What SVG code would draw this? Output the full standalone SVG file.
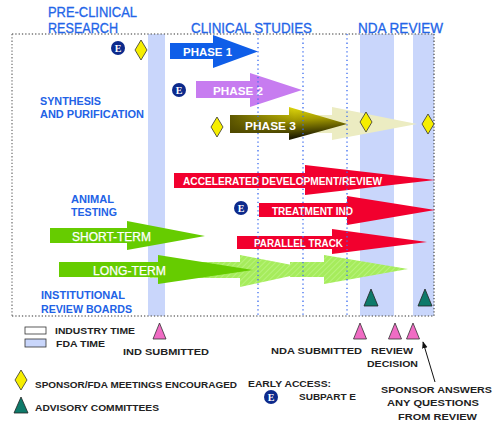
<svg xmlns="http://www.w3.org/2000/svg" width="500" height="428" viewBox="0 0 500 428">
<defs>
<style>
.hdr{font-family:"Liberation Sans",Arial,sans-serif;font-size:14px;fill:#2365e8;stroke:#2365e8;stroke-width:0.3}
.lbl{font-family:"Liberation Sans",Arial,sans-serif;font-size:10.5px;font-weight:bold;fill:#2262e6}
.wt{font-family:"Liberation Sans",Arial,sans-serif;font-size:11px;font-weight:bold;fill:#fff}
.wtn{font-family:"Liberation Sans",Arial,sans-serif;font-size:12px;fill:#fff;stroke:#fff;stroke-width:0.25}
.lg{font-family:"Liberation Sans",Arial,sans-serif;font-size:9.5px;font-weight:bold;fill:#222}
.band{fill:#c9d6fb}
.vdot{stroke:#3a6cf0;stroke-width:1.3;stroke-dasharray:1.3 3;fill:none}
.bdr{stroke:#777;stroke-width:1.3;stroke-dasharray:1.3 2;fill:none}
.dia{fill:#f6ee00;stroke:#333;stroke-width:0.8}
.tri{fill:#f06cc4;stroke:#333;stroke-width:0.8}
.adv{fill:#0e7a6a;stroke:#222;stroke-width:0.8}
.red{fill:#f2002e}
.grn{fill:#66cc00}
.pgrn{fill:url(#hatch)}
.ebg{fill:#0d2a8c}
.et{font-family:"Liberation Serif","Times New Roman",serif;font-size:10px;font-weight:bold;fill:#fff;text-anchor:middle}
</style>
<pattern id="hatch" width="4" height="4" patternUnits="userSpaceOnUse" patternTransform="rotate(45)">
<rect width="4" height="4" fill="#a6ec5c"/>
<line x1="0" y1="0" x2="0" y2="4" stroke="#bdf585" stroke-width="1.5"/>
</pattern>
<linearGradient id="p3" x1="0" y1="0" x2="0.25" y2="1">
<stop offset="0" stop-color="#f4ee10"/>
<stop offset="0.5" stop-color="#a49a00"/>
<stop offset="1" stop-color="#1e1c00"/>
</linearGradient>
<linearGradient id="p3h" x1="0" y1="0" x2="1" y2="0">
<stop offset="0" stop-color="#4a4400" stop-opacity="0.85"/>
<stop offset="0.55" stop-color="#4a4400" stop-opacity="0"/>
</linearGradient>
<marker id="ah" viewBox="0 0 10 10" refX="9" refY="5" markerWidth="7" markerHeight="7" orient="auto">
<path d="M0,1 L10,5 L0,9 Z" fill="#111"/>
</marker>
</defs>
<rect width="500" height="428" fill="#fff"/>

<g id="fda-bands">
<rect class="band" x="148" y="34" width="17" height="282"/>
<rect class="band" x="360" y="34" width="34" height="282"/>
<rect class="band" x="413" y="34" width="21" height="282"/>
</g>

<g id="frame">
<path class="bdr" d="M12,34 H434 M12,34 V316 M12,316 H434"/>
<path d="M434,34 V316" stroke="#555" stroke-width="1.3" stroke-dasharray="1.3 2" fill="none"/>
</g>

<g id="headers">
<text class="hdr" x="48" y="17" textLength="89" lengthAdjust="spacingAndGlyphs">PRE-CLINICAL</text>
<text class="hdr" x="48" y="33" textLength="70" lengthAdjust="spacingAndGlyphs">RESEARCH</text>
<text class="hdr" x="191" y="33" textLength="121" lengthAdjust="spacingAndGlyphs">CLINICAL STUDIES</text>
<text class="hdr" x="358" y="33" textLength="85" lengthAdjust="spacingAndGlyphs">NDA REVIEW</text>
</g>

<g id="row-labels">
<text class="lbl" x="40" y="105" textLength="61" lengthAdjust="spacingAndGlyphs">SYNTHESIS</text>
<text class="lbl" x="40" y="118" textLength="104" lengthAdjust="spacingAndGlyphs">AND PURIFICATION</text>
<text class="lbl" x="71" y="203" textLength="43" lengthAdjust="spacingAndGlyphs">ANIMAL</text>
<text class="lbl" x="71" y="216" textLength="46" lengthAdjust="spacingAndGlyphs">TESTING</text>
<text class="lbl" x="41" y="299" textLength="84" lengthAdjust="spacingAndGlyphs">INSTITUTIONAL</text>
<text class="lbl" x="41" y="313" textLength="91" lengthAdjust="spacingAndGlyphs">REVIEW BOARDS</text>
</g>

<g id="phase1">
<path d="M170,43 H213 V35 L258,51.5 L213,68 V59 H170 Z" fill="#0f5ee8"/>
<text class="wt" x="183" y="56" textLength="49" lengthAdjust="spacingAndGlyphs">PHASE 1</text>
</g>
<g id="phase2">
<path d="M196,81 H250 V73 L302,90 L250,107 V98 H196 Z" fill="#c77cf0"/>
<text class="wt" x="213" y="95" textLength="50" lengthAdjust="spacingAndGlyphs">PHASE 2</text>
</g>
<g id="phase3-ext">
<path d="M290,115 H332 V107 L417,124 L332,140 V133 H290 Z" fill="#ececc2"/>
</g>
<g id="phase3">
<path d="M230,115 H289 V107 L347,124 L289,140 V133 H230 Z" fill="url(#p3)"/>
<path d="M230,115 H289 V107 L347,124 L289,140 V133 H230 Z" fill="url(#p3h)"/>
<text class="wt" x="245" y="130" textLength="51" lengthAdjust="spacingAndGlyphs">PHASE 3</text>
</g>

<g id="accelerated">
<path class="red" d="M174,173 H305 V165 L435,180 L305,195 V188 H174 Z"/>
<text class="wt" x="183" y="185" font-size="10" textLength="199" lengthAdjust="spacingAndGlyphs">ACCELERATED  DEVELOPMENT/REVIEW</text>
</g>
<g id="treatment-ind">
<path class="red" d="M259,203 H347 V196 L435,210 L347,225 V217 H259 Z"/>
<text class="wt" x="272" y="215" font-size="10" textLength="81" lengthAdjust="spacingAndGlyphs">TREATMENT IND</text>
</g>
<g id="parallel-track">
<path class="red" d="M237,236 H332 V229 L427,242 L332,254 V249 H237 Z"/>
<text class="wt" x="254" y="247" font-size="10" textLength="89" lengthAdjust="spacingAndGlyphs">PARALLEL TRACK</text>
</g>

<g id="short-term">
<path class="grn" d="M50,228 H127 V221 L205,236 L127,250 V243 H50 Z"/>
<text class="wtn" x="72" y="241" textLength="79" lengthAdjust="spacingAndGlyphs">SHORT-TERM</text>
</g>
<g id="long-term-ext">
<path class="pgrn" d="M150,262 H240 V255 L318,270 L240,287 V278 H150 Z"/>
<path class="pgrn" d="M290,262 H324 V255 L408,269 L324,284 V277 H290 Z"/>
</g>
<g id="long-term">
<path class="grn" d="M59,262 H158 V255 L253,270 L158,284 V277 H59 Z"/>
<text class="wtn" x="93" y="275" textLength="73" lengthAdjust="spacingAndGlyphs">LONG-TERM</text>
</g>

<g id="grid">
<path class="vdot" d="M258,34 V316 M303,34 V316 M347,34 V316"/>
</g>

<g id="early-access-marks">
<circle class="ebg" cx="118" cy="48" r="7"/><text class="et" x="118" y="51.5">E</text>
<circle class="ebg" cx="179" cy="90" r="7"/><text class="et" x="179" y="93.5">E</text>
<circle class="ebg" cx="241" cy="208" r="7"/><text class="et" x="241" y="211.5">E</text>
</g>

<g id="meetings">
<path class="dia" d="M141,40 L147,50 L141,60 L135,50 Z"/>
<path class="dia" d="M217,117 L223,127 L217,137 L211,127 Z"/>
<path class="dia" d="M366,112 L372,122 L366,132 L360,122 Z"/>
<path class="dia" d="M428,114 L434,124 L428,134 L422,124 Z"/>
</g>

<g id="advisory">
<path class="adv" d="M371,289 L378,306 L364,306 Z"/>
<path class="adv" d="M425,289 L432,306 L418,306 Z"/>
</g>

<g id="submissions">
<path class="tri" d="M159.5,323 L166,339 L153,339 Z"/>
<path class="tri" d="M360,323 L366.5,339 L353.5,339 Z"/>
<path class="tri" d="M395,323 L401.5,339 L388.5,339 Z"/>
<path class="tri" d="M413,323 L419.5,339 L406.5,339 Z"/>
<text class="lg" x="123" y="355" textLength="86" lengthAdjust="spacingAndGlyphs">IND SUBMITTED</text>
<text class="lg" x="271" y="354" textLength="91" lengthAdjust="spacingAndGlyphs">NDA SUBMITTED</text>
<text class="lg" x="371" y="354" textLength="42" lengthAdjust="spacingAndGlyphs">REVIEW</text>
<text class="lg" x="367" y="367" textLength="51" lengthAdjust="spacingAndGlyphs">DECISION</text>
</g>

<g id="legend">
<rect x="25" y="327" width="21" height="7" fill="#fff" stroke="#333" stroke-width="0.8"/>
<text class="lg" x="55" y="334" textLength="80" lengthAdjust="spacingAndGlyphs">INDUSTRY TIME</text>
<rect x="25" y="339" width="21" height="8" fill="#c9d6fb" stroke="#333" stroke-width="0.8"/>
<text class="lg" x="56" y="347" textLength="49" lengthAdjust="spacingAndGlyphs">FDA TIME</text>
<path class="dia" d="M21,370 L27,380 L21,390 L15,380 Z"/>
<text class="lg" x="35" y="388" textLength="202" lengthAdjust="spacingAndGlyphs">SPONSOR/FDA MEETINGS ENCOURAGED</text>
<path class="adv" d="M21,397 L28,413 L14,413 Z"/>
<text class="lg" x="35" y="411" textLength="124" lengthAdjust="spacingAndGlyphs">ADVISORY COMMITTEES</text>
<text class="lg" x="248" y="387" textLength="83" lengthAdjust="spacingAndGlyphs">EARLY ACCESS:</text>
<circle class="ebg" cx="271" cy="397" r="7"/><text class="et" x="271" y="400.5">E</text>
<text class="lg" x="299" y="400" textLength="57" lengthAdjust="spacingAndGlyphs">SUBPART E</text>
</g>

<g id="sponsor-answers">
<text class="lg" x="381" y="393" textLength="111" lengthAdjust="spacingAndGlyphs">SPONSOR ANSWERS</text>
<text class="lg" x="387" y="406" textLength="92" lengthAdjust="spacingAndGlyphs">ANY QUESTIONS</text>
<text class="lg" x="398" y="420" textLength="79" lengthAdjust="spacingAndGlyphs">FROM REVIEW</text>
</g>

<g id="connectors">
<line x1="435" y1="382" x2="423" y2="342" stroke="#111" stroke-width="1" marker-end="url(#ah)"/>
</g>
</svg>
